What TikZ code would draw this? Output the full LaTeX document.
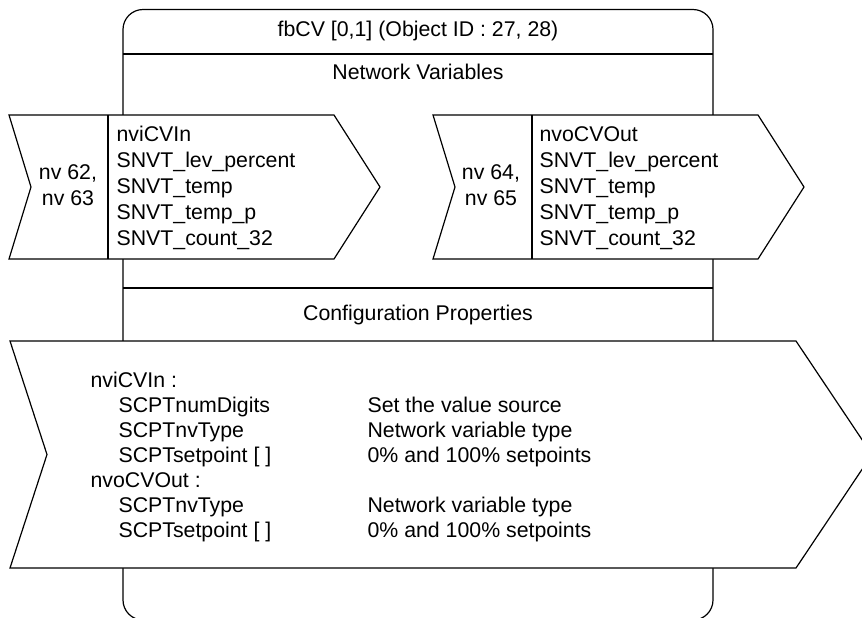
\documentclass[tikz,border=0pt]{standalone}
\usepackage{fontspec}
\setmainfont{Liberation Sans}
\usetikzlibrary{calc}

\begin{document}
\begin{tikzpicture}[x=0.5pt,y=-0.5pt,line width=0.6pt,
	every node/.style={inner sep=0pt,font=\fontsize{10.65}{13}\selectfont},
	cptext/.style={font=\fontsize{10.65}{12.5}\selectfont}]

	% ---- parameters

	\def\nvtop{115}
	\def\nvbot{259}
	\def\nvmid{187}
	\def\indent{\hspace*{14pt}}

	\useasboundingbox (0,0) rectangle (862,617);

	% ---- block outline

	\draw[rounded corners=10pt] (123,9.5) rectangle (713,620);
	\draw (123,54) -- (713,54);
	\draw (123,288) -- (713,288);

	% ---- network variable arrows

	\foreach \dx in {0,424} {
		\coordinate (A) at ({9+\dx},\nvtop);
		\coordinate (B) at ({334+\dx},\nvtop);
		\coordinate (T) at ({380+\dx},\nvmid);
		\coordinate (C) at ({334+\dx},\nvbot);
		\coordinate (D) at ({9+\dx},\nvbot);
		\coordinate (N) at ({31+\dx},\nvmid);
		\filldraw[fill=white] (A) -- (B) -- (T) -- (C) -- (D) -- (N) -- cycle;
		\draw ({108+\dx},\nvtop) -- ({108+\dx},\nvbot);
	}

	% ---- configuration arrow

	\filldraw[fill=white] (10,341) -- (796,341) -- (872,454.5) -- (796,568)
		-- (10,568) -- (47,454.5) -- cycle;

	% ---- labels

	\node (title) at (418,31) {fbCV [0,1] (Object ID : 27, 28)};
	\node (nvhead) at (418,72) {Network Variables};
	\node (cphead) at (418,315) {Configuration Properties};

	\node[align=center] (nviNum) at (68,185) {nv 62,\\nv 63};
	\node[align=left, anchor=west] (nviList) at (116,188)
		{nviCVIn\\SNVT\_lev\_percent\\SNVT\_temp\\SNVT\_temp\_p\\SNVT\_count\_32};

	\node[align=center] (nvoNum) at (491,185) {nv 64,\\nv 65};
	\node[align=left, anchor=west] (nvoList) at (539,188)
		{nvoCVOut\\SNVT\_lev\_percent\\SNVT\_temp\\SNVT\_temp\_p\\SNVT\_count\_32};

	\node[cptext, anchor=west] (cpList) at (90,457) {%
		\begin{tabular}{@{}p{138.5pt}@{}l@{}}
			nviCVIn : & \\
			\indent SCPTnumDigits & Set the value source\\
			\indent SCPTnvType & Network variable type\\
			\indent SCPTsetpoint [ ] & 0\% and 100\% setpoints\\
			nvoCVOut : & \\
			\indent SCPTnvType & Network variable type\\
			\indent SCPTsetpoint [ ] & 0\% and 100\% setpoints
		\end{tabular}};

\end{tikzpicture}
\end{document}
